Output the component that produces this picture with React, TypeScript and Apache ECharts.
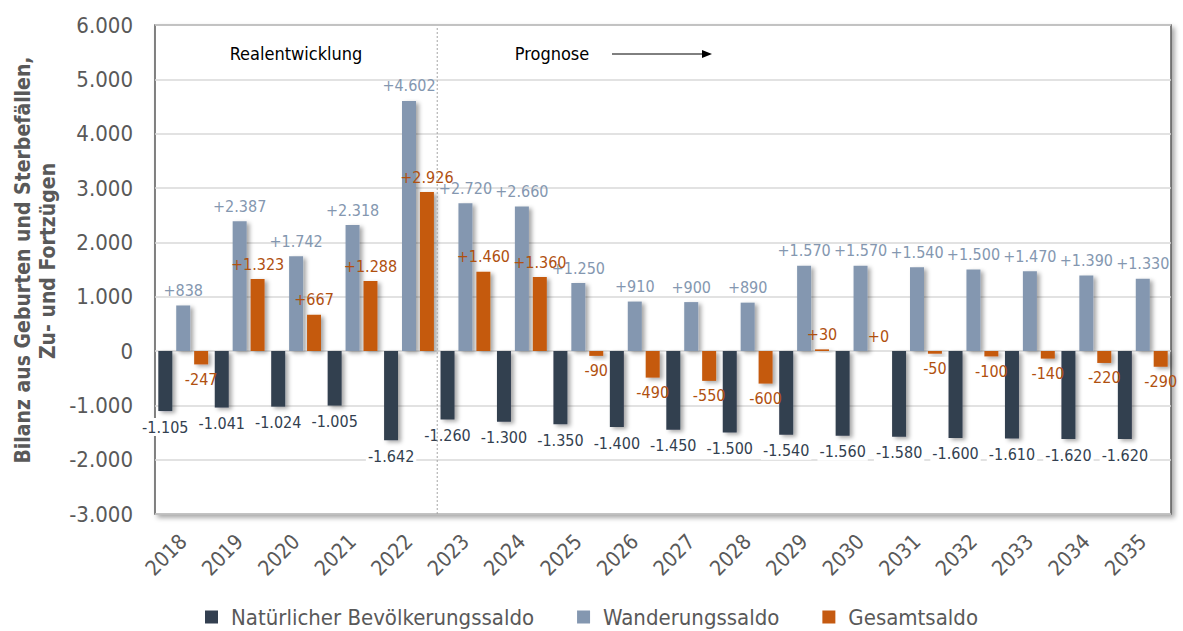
import React, { useEffect, useRef } from "react";
import * as echarts from "echarts";

const categories = ["2018", "2019", "2020", "2021", "2022", "2023", "2024", "2025", "2026", "2027", "2028", "2029", "2030", "2031", "2032", "2033", "2034", "2035"];
const naturalSaldo = [-1105, -1041, -1024, -1005, -1642, -1260, -1300, -1350, -1400, -1450, -1500, -1540, -1560, -1580, -1600, -1610, -1620, -1620];
const migrationSaldo = [838, 2387, 1742, 2318, 4602, 2720, 2660, 1250, 910, 900, 890, 1570, 1570, 1540, 1500, 1470, 1390, 1330];
const totalSaldo = [-247, 1323, 667, 1288, 2926, 1460, 1360, -90, -490, -550, -600, 30, 0, -50, -100, -140, -220, -290];
const seriesNames = ["Natürlicher Bevölkerungssaldo", "Wanderungssaldo", "Gesamtsaldo"];
const yAxisTitle = ["Bilanz aus Geburten und Sterbefällen,", "Zu- und Fortzügen"];
const yMin = -3000;
const yMax = 6000;
const yInterval = 1000;
const realIndexLast = 4; // 2022 = last real year

const FONT = "'DejaVu Sans Condensed', 'Liberation Sans', sans-serif";
const DARK = "#333f50";
const BLUE = "#8497b0";
const ORANGE = "#c55a11";
const TEXT = "#595959";

const fmt = (v: number) => {
  const s = Math.abs(v).toString().replace(/\B(?=(\d{3})+(?!\d))/g, ".");
  return (v < 0 ? "-" : "") + s;
};
const signed = (v: number) => (v >= 0 ? "+" : "") + fmt(v);

const shadow = {
  shadowColor: "rgba(0,0,0,0.35)",
  shadowBlur: 4,
  shadowOffsetX: 3,
  shadowOffsetY: 2,
};

function makeData(values: number[], labelColor: string, withSign: boolean, bg?: string) {
  return values.map((v) => ({
    value: v,
    label: {
      show: true,
      position: v < 0 ? "bottom" : "top",
      distance: 7,
      color: labelColor,
      fontFamily: FONT,
      fontSize: 16,
      formatter: () => (withSign ? signed(v) : fmt(v)),
      backgroundColor: bg,
      padding: bg ? [1, 2] : 0,
    },
  }));
}

export default function App() {
  const ref = useRef<HTMLDivElement>(null);
  useEffect(() => {
    if (!ref.current) return;
    const chart = echarts.init(ref.current, null, { renderer: "svg" });
    const option: any = {
      animation: false,
      backgroundColor: "#ffffff",
      textStyle: { fontFamily: FONT },
      grid: {
        left: 155,
        right: 12,
        top: 25,
        bottom: 117,
        show: true,
        backgroundColor: "#ffffff",
        borderColor: "#595959",
        borderWidth: 1.5,
        shadowColor: "rgba(0,0,0,0.35)",
        shadowBlur: 5,
        shadowOffsetX: 3,
        shadowOffsetY: 3,
      },
      legend: {
        data: seriesNames,
        left: "center",
        top: 604,
        padding: 0,
        icon: "rect",
        itemWidth: 13,
        itemHeight: 13,
        itemGap: 43,
        textStyle: { color: TEXT, fontSize: 22, lineHeight: 26, fontFamily: FONT, padding: [0, 0, 0, 8] },
      },
      xAxis: {
        type: "category",
        data: categories,
        axisLine: { show: false },
        axisTick: { show: false },
        axisLabel: {
          rotate: 45,
          color: TEXT,
          fontSize: 21,
          fontFamily: FONT,
          margin: 24,
          interval: 0,
        },
      },
      yAxis: {
        type: "value",
        min: yMin,
        max: yMax,
        interval: yInterval,
        axisLine: { show: false },
        axisTick: { show: false },
        axisLabel: {
          color: TEXT,
          fontSize: 22,
          fontFamily: FONT,
          margin: 22,
          formatter: (v: number) => fmt(v),
        },
        splitLine: { lineStyle: { color: "#d9d9d9", width: 1.5 } },
      },
      series: [
        {
          name: seriesNames[0],
          type: "bar",
          data: makeData(naturalSaldo, DARK, false, "#ffffff"),
          itemStyle: { color: DARK, ...shadow },
          barWidth: 14,
          barGap: "28%",
        },
        {
          name: seriesNames[1],
          type: "bar",
          data: makeData(migrationSaldo, BLUE, true),
          itemStyle: { color: BLUE, ...shadow },
          barWidth: 14,
          barGap: "28%",
        },
        {
          name: seriesNames[2],
          type: "bar",
          data: makeData(totalSaldo, "#b0500f", true),
          itemStyle: { color: ORANGE, ...shadow },
          barWidth: 14,
          barGap: "28%",
        },
      ],
    };
    chart.setOption(option);

    const x4 = chart.convertToPixel({ xAxisIndex: 0 }, realIndexLast) as number;
    const x5 = chart.convertToPixel({ xAxisIndex: 0 }, realIndexLast + 1) as number;
    const xDiv = (x4 + x5) / 2;
    const yTop = chart.convertToPixel({ yAxisIndex: 0 }, yMax) as number;
    const yBot = chart.convertToPixel({ yAxisIndex: 0 }, yMin) as number;

    chart.setOption({
      graphic: [
        {
          type: "text",
          x: 23,
          y: 260,
          rotation: Math.PI / 2,
          style: {
            text: yAxisTitle[0],
            fill: TEXT,
            font: `bold 21px ${FONT}`,
            align: "center",
            verticalAlign: "middle",
          },
        },
        {
          type: "text",
          x: 48,
          y: 261,
          rotation: Math.PI / 2,
          style: {
            text: yAxisTitle[1],
            fill: TEXT,
            font: `bold 21px ${FONT}`,
            align: "center",
            verticalAlign: "middle",
          },
        },
        {
          type: "line",
          shape: { x1: xDiv, y1: yTop + 3, x2: xDiv, y2: yBot },
          style: { stroke: "#a6a6a6", lineWidth: 1, lineDash: [2, 2] },
          z: 10,
        },
        {
          type: "text",
          x: 296,
          y: 53,
          style: {
            text: "Realentwicklung",
            fill: "#000000",
            font: `18px ${FONT}`,
            align: "center",
            verticalAlign: "middle",
          },
          z: 10,
        },
        {
          type: "text",
          x: 552,
          y: 53,
          style: {
            text: "Prognose",
            fill: "#000000",
            font: `18px ${FONT}`,
            align: "center",
            verticalAlign: "middle",
          },
          z: 10,
        },
        {
          type: "line",
          shape: { x1: 612, y1: 54, x2: 704, y2: 54 },
          style: { stroke: "#000000", lineWidth: 1 },
          z: 10,
        },
        {
          type: "polygon",
          shape: { points: [[712, 54], [702, 50], [702, 58]] },
          style: { fill: "#000000" },
          z: 10,
        },
      ],
    });

    return () => chart.dispose();
  }, []);
  return (
    <div
      ref={ref}
      style={{ position: "absolute", left: 0, top: 0, width: 1183, height: 631 }}
    />
  );
}
